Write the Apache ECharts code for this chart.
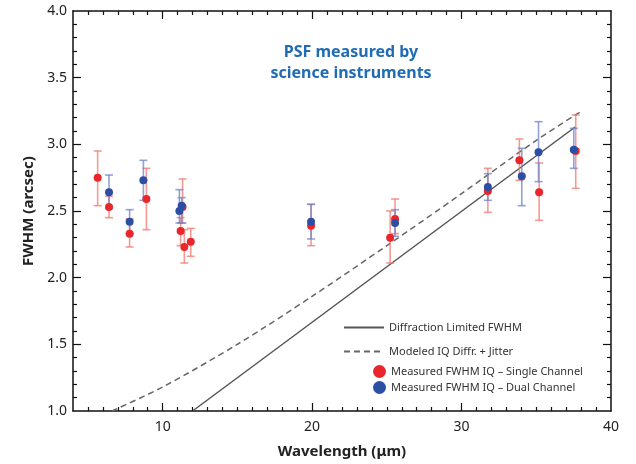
<!DOCTYPE html>
<html>
<head>
<meta charset="utf-8">
<script src="https://cdn.jsdelivr.net/npm/echarts@6/dist/echarts.min.js"></script>
<style>
  html, body { margin: 0; padding: 0; background: #fff; }
  #main { width: 636px; height: 464px; }
</style>
</head>
<body>
<div id="main"></div>
<script>
// 单通道测量 (red)
var singleWl   = [5.65, 6.41, 7.79, 8.91, 11.20, 11.33, 11.45, 11.88, 19.93, 25.22, 25.55, 31.76, 33.87, 35.19, 37.64];
var singleFwhm = [2.75, 2.53, 2.33, 2.59, 2.35, 2.53, 2.23, 2.27, 2.39, 2.30, 2.44, 2.65, 2.88, 2.64, 2.95];
var singleLow  = [2.54, 2.45, 2.23, 2.36, 2.24, 2.41, 2.11, 2.16, 2.24, 2.11, 2.33, 2.49, 2.73, 2.43, 2.67];
var singleHigh = [2.95, 2.61, 2.44, 2.82, 2.45, 2.74, 2.36, 2.37, 2.55, 2.50, 2.59, 2.82, 3.04, 2.86, 3.22];

// 双通道测量 (blue)
var dualWl   = [6.41, 7.79, 8.71, 11.12, 11.27, 19.93, 25.55, 31.76, 34.03, 35.15, 37.51];
var dualFwhm = [2.64, 2.42, 2.73, 2.50, 2.54, 2.42, 2.41, 2.68, 2.76, 2.94, 2.96];
var dualLow  = [2.52, 2.33, 2.58, 2.41, 2.41, 2.29, 2.31, 2.58, 2.54, 2.72, 2.82];
var dualHigh = [2.77, 2.51, 2.88, 2.66, 2.60, 2.55, 2.51, 2.78, 2.97, 3.17, 3.12];

// 衍射极限 & 模型曲线
var diffWl   = [12.0, 37.6];
var diffFwhm = [1.00, 3.13];
var modelWl   = [6.6, 10, 15, 20, 25, 30, 35, 37.9];
var modelFwhm = [1.00, 1.18, 1.50, 1.86, 2.24, 2.63, 3.03, 3.24];

// 刻度
var xLabels = [10, 20, 30, 40];
var xMajorTicks = [10, 20, 30];
var xMinorTicks = [5, 6, 7, 8, 9, 11, 12, 13, 14, 15, 16, 17, 18, 19, 21, 22, 23, 24, 25, 26, 27, 28, 29,
                   31, 32, 33, 34, 35, 36, 37, 38, 39];
var yMajorTicks = [1.5, 2.0, 2.5, 3.0, 3.5];
var yMinorTicks = [1.1, 1.2, 1.3, 1.4, 1.6, 1.7, 1.8, 1.9, 2.1, 2.2, 2.3, 2.4, 2.6, 2.7, 2.8, 2.9,
                   3.1, 3.2, 3.3, 3.4, 3.6, 3.7, 3.8, 3.9];

var X_MIN = 4, X_MAX = 40, Y_MIN = 1, Y_MAX = 4;

var RED = '#e8262b';
var BLUE = '#2c4ea3';
var FONT = 'Noto Sans';

function pairs(xs, ys) {
    return xs.map(function (x, i) { return [x, ys[i]]; });
}
function bars(xs, lo, hi) {
    return xs.map(function (x, i) { return [x, lo[i], hi[i]]; });
}

// 刻度线段 (markLine, 长度用数据单位: 约 8px / 4px)
function tickSegments() {
    var segs = [];
    function xt(vals, len) {
        vals.forEach(function (v) {
            segs.push([{ coord: [v, Y_MIN] }, { coord: [v, Y_MIN + len] }]);
            segs.push([{ coord: [v, Y_MAX] }, { coord: [v, Y_MAX - len] }]);
        });
    }
    function yt(vals, len) {
        vals.forEach(function (v) {
            segs.push([{ coord: [X_MIN, v] }, { coord: [X_MIN + len, v] }]);
            segs.push([{ coord: [X_MAX, v] }, { coord: [X_MAX - len, v] }]);
        });
    }
    xt(xMajorTicks, 0.06);
    xt(xMinorTicks, 0.03);
    yt(yMajorTicks, 0.54);
    yt(yMinorTicks, 0.27);
    return segs;
}

// 误差棒
function renderErrorBar(params, api) {
    var lo = api.coord([api.value(0), api.value(1)]);
    var hi = api.coord([api.value(0), api.value(2)]);
    var hw = 4;
    var style = { stroke: api.visual('color'), lineWidth: 1.6, opacity: 0.75 };
    return {
        type: 'group',
        children: [
            { type: 'line', shape: { x1: lo[0], y1: lo[1], x2: hi[0], y2: hi[1] }, style: style },
            { type: 'line', shape: { x1: lo[0] - hw, y1: lo[1], x2: lo[0] + hw, y2: lo[1] }, style: style },
            { type: 'line', shape: { x1: hi[0] - hw, y1: hi[1], x2: hi[0] + hw, y2: hi[1] }, style: style }
        ]
    };
}

function axisLine() {
    return { show: true, onZero: false, lineStyle: { color: '#111', width: 1.5 } };
}

var chart = echarts.init(document.getElementById('main'));

var option = {
    animation: false,
    title: {
        text: 'PSF measured by\nscience instruments',
        left: 346,
        top: 37,
        textAlign: 'center',
        textStyle: { color: '#1f6cb5', fontSize: 16, fontWeight: 'bold', fontFamily: FONT, lineHeight: 21 }
    },
    grid: { left: 73, right: 25, top: 11, bottom: 52 },
    legend: [
        {
            data: ['Diffraction Limited FWHM', 'Modeled IQ Diffr. + Jitter'],
            orient: 'vertical',
            left: 338,
            top: 317,
            itemWidth: 40,
            itemHeight: 10,
            itemGap: 13,
            itemStyle: { opacity: 0 },
            textStyle: { fontSize: 11, color: '#333', fontFamily: FONT }
        },
        {
            data: ['Measured FWHM IQ – Single Channel', 'Measured FWHM IQ – Dual Channel'],
            orient: 'vertical',
            left: 368,
            top: 360,
            icon: 'circle',
            itemWidth: 13,
            itemHeight: 13,
            itemGap: 3,
            textStyle: { fontSize: 11, color: '#333', fontFamily: FONT }
        }
    ],
    xAxis: [
        {
            type: 'value', position: 'bottom', min: X_MIN, max: X_MAX, interval: 1,
            axisLine: axisLine(),
            axisTick: { show: false },
            axisLabel: {
                show: true, margin: 9, fontSize: 14, color: '#222', fontFamily: FONT,
                formatter: function (v) { return xLabels.indexOf(v) >= 0 ? v : ''; }
            },
            splitLine: { show: false },
            name: 'Wavelength (μm)',
            nameLocation: 'middle',
            nameGap: 33,
            nameTextStyle: { fontSize: 15, fontWeight: 'bold', color: '#222', fontFamily: FONT }
        },
        {
            type: 'value', position: 'top', min: X_MIN, max: X_MAX, interval: 1,
            axisLine: axisLine(),
            axisTick: { show: false },
            axisLabel: { show: false },
            splitLine: { show: false }
        }
    ],
    yAxis: [
        {
            type: 'value', position: 'left', min: Y_MIN, max: Y_MAX, interval: 0.5,
            axisLine: axisLine(),
            axisTick: { show: false },
            axisLabel: {
                show: true, margin: 6, fontSize: 14, color: '#222', fontFamily: FONT,
                formatter: function (v) { return v.toFixed(1); }
            },
            splitLine: { show: false },
            name: 'FWHM (arcsec)',
            nameLocation: 'middle',
            nameGap: 37,
            nameTextStyle: { fontSize: 15, fontWeight: 'bold', color: '#222', fontFamily: FONT }
        },
        {
            type: 'value', position: 'right', min: Y_MIN, max: Y_MAX, interval: 0.5,
            axisLine: axisLine(),
            axisTick: { show: false },
            axisLabel: { show: false },
            splitLine: { show: false }
        }
    ],
    series: [
        {
            name: 'Diffraction Limited FWHM',
            type: 'line',
            data: pairs(diffWl, diffFwhm),
            symbol: 'none',
            itemStyle: { color: '#888' },
            lineStyle: { color: '#555', width: 1.5 },
            z: 2,
            markLine: {
                silent: true,
                animation: false,
                symbol: ['none', 'none'],
                label: { show: false },
                emphasis: { disabled: true },
                lineStyle: { color: '#111', width: 1.2, type: 'solid', opacity: 1 },
                data: tickSegments()
            }
        },
        {
            name: 'Modeled IQ Diffr. + Jitter',
            type: 'line',
            data: pairs(modelWl, modelFwhm),
            symbol: 'none',
            smooth: 0.3,
            itemStyle: { color: '#888' },
            lineStyle: { color: '#666', width: 1.5, type: [6, 4] },
            z: 2
        },
        {
            name: 'single-err',
            type: 'custom',
            renderItem: renderErrorBar,
            data: bars(singleWl, singleLow, singleHigh),
            encode: { x: 0, y: [1, 2] },
            itemStyle: { color: '#f2786f' },
            z: 3
        },
        {
            name: 'dual-err',
            type: 'custom',
            renderItem: renderErrorBar,
            data: bars(dualWl, dualLow, dualHigh),
            encode: { x: 0, y: [1, 2] },
            itemStyle: { color: '#6f82c8' },
            z: 3
        },
        {
            name: 'Measured FWHM IQ – Single Channel',
            type: 'scatter',
            data: pairs(singleWl, singleFwhm),
            symbolSize: 8,
            itemStyle: { color: RED, opacity: 1 },
            z: 4
        },
        {
            name: 'Measured FWHM IQ – Dual Channel',
            type: 'scatter',
            data: pairs(dualWl, dualFwhm),
            symbolSize: 8,
            itemStyle: { color: BLUE, opacity: 1 },
            z: 5
        }
    ]
};

chart.setOption(option);
</script>
</body>
</html>
